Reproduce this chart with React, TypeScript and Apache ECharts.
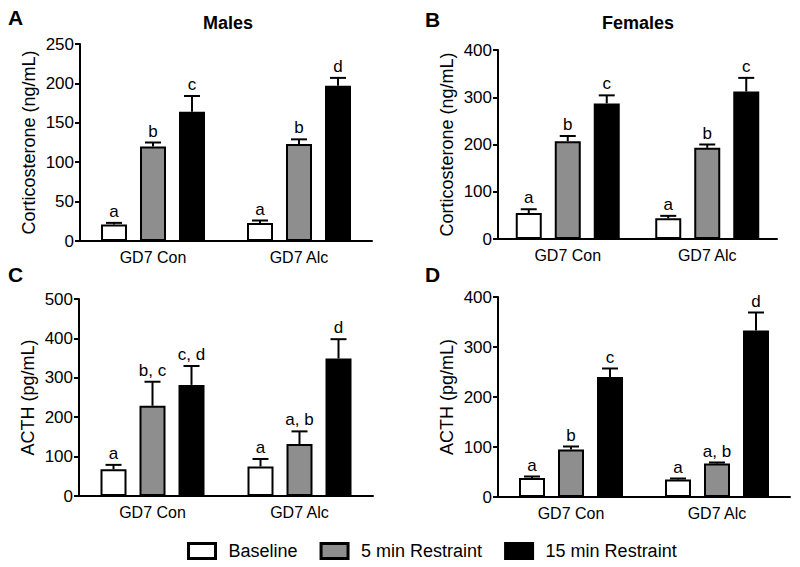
import React, { useEffect, useRef } from "react";
import * as echarts from "echarts";

const categories = ["GD7 Con", "GD7 Alc"];
const seriesNames = ["Baseline", "5 min Restraint", "15 min Restraint"];
const seriesColors = ["#ffffff", "#8e8e8e", "#000000"];

// Panel A: Males corticosterone (ng/mL)
const aBaseline = [21, 23];
const aBaselineSem = [2, 3];
const aFive = [120, 123];
const aFiveSem = [5, 6];
const aFifteen = [164, 197];
const aFifteenSem = [20, 10];
const aLetters = [["a", "a"], ["b", "b"], ["c", "d"]];

// Panel B: Females corticosterone (ng/mL)
const bBaseline = [55, 44];
const bBaselineSem = [8, 5];
const bFive = [207, 193];
const bFiveSem = [11, 7];
const bFifteen = [287, 312];
const bFifteenSem = [17, 29];
const bLetters = [["a", "a"], ["b", "b"], ["c", "c"]];

// Panel C: Males ACTH (pg/mL)
const cBaseline = [68, 75];
const cBaselineSem = [11, 19];
const cFive = [229, 132];
const cFiveSem = [61, 32];
const cFifteen = [282, 349];
const cFifteenSem = [48, 49];
const cLetters = [["a", "a"], ["b, c", "a, b"], ["c, d", "d"]];

// Panel D: Females ACTH (pg/mL)
const dBaseline = [38, 35];
const dBaselineSem = [3, 2];
const dFive = [95, 67];
const dFiveSem = [6, 2];
const dFifteen = [240, 333];
const dFifteenSem = [17, 36];
const dLetters = [["a", "a"], ["b", "a, b"], ["c", "d"]];

const FONT = "'Liberation Sans', Arial, Helvetica, sans-serif";

const BAR_W = 26;
const BAR_STEP = 39;

const panels = [
  {
    grid: { left: 80, top: 44, width: 292, height: 197 },
    max: 250, interval: 50, yName: "Corticosterone (ng/mL)",
    means: [aBaseline, aFive, aFifteen], sems: [aBaselineSem, aFiveSem, aFifteenSem], letters: aLetters,
  },
  {
    grid: { left: 498, top: 50, width: 279, height: 189 },
    max: 400, interval: 100, yName: "Corticosterone (ng/mL)",
    means: [bBaseline, bFive, bFifteen], sems: [bBaselineSem, bFiveSem, bFifteenSem], letters: bLetters,
  },
  {
    grid: { left: 79, top: 299, width: 294, height: 197 },
    max: 500, interval: 100, yName: "ACTH (pg/mL)",
    means: [cBaseline, cFive, cFifteen], sems: [cBaselineSem, cFiveSem, cFifteenSem], letters: cLetters,
  },
  {
    grid: { left: 498, top: 297, width: 292, height: 200 },
    max: 400, interval: 100, yName: "ACTH (pg/mL)",
    means: [dBaseline, dFive, dFifteen], sems: [dBaselineSem, dFiveSem, dFifteenSem], letters: dLetters,
  },
];

function buildOption() {
  const grids: any[] = [];
  const xAxes: any[] = [];
  const yAxes: any[] = [];
  const series: any[] = [];

  panels.forEach((p, pi) => {
    grids.push({ ...p.grid, containLabel: false });
    xAxes.push({
      type: "category",
      gridIndex: pi,
      data: categories,
      axisLine: { lineStyle: { color: "#000", width: 2 } },
      axisTick: { alignWithLabel: true, length: 5, lineStyle: { color: "#000", width: 2 } },
      axisLabel: { color: "#000", fontSize: 16, fontFamily: FONT, margin: 8 },
      splitLine: { show: false },
    });
    yAxes.push({
      type: "value",
      gridIndex: pi,
      min: 0,
      max: p.max,
      interval: p.interval,
      name: p.yName,
      nameLocation: "middle",
      nameGap: 42,
      nameTextStyle: { color: "#000", fontSize: 18, fontFamily: FONT },
      axisLine: { show: true, lineStyle: { color: "#000", width: 2 } },
      axisTick: { show: true, length: 5, lineStyle: { color: "#000", width: 2 } },
      axisLabel: { color: "#000", fontSize: 17, fontFamily: FONT, margin: 6 },
      splitLine: { show: false },
    });

    p.means.forEach((m, si) => {
      series.push({
        type: "bar",
        name: seriesNames[si],
        xAxisIndex: pi,
        yAxisIndex: pi,
        data: m,
        barWidth: BAR_W,
        barGap: "50%",
        itemStyle: { color: seriesColors[si], borderColor: "#000", borderWidth: 2 },
        z: 2,
      });
    });

    p.means.forEach((m, si) => {
      const sem = p.sems[si];
      const letters = p.letters[si];
      const offset = (si - 1) * BAR_STEP;
      series.push({
        type: "custom",
        xAxisIndex: pi,
        yAxisIndex: pi,
        z: 5,
        data: m.map((v, ci) => [ci, v, sem[ci]]),
        renderItem: (params: any, api: any) => {
          const ci = api.value(0);
          const mean = api.value(1);
          const s = api.value(2);
          const base = api.coord([ci, mean]);
          const top = api.coord([ci, mean + s]);
          const x = base[0] + offset;
          return {
            type: "group",
            children: [
              { type: "line", shape: { x1: x, y1: base[1], x2: x, y2: top[1] }, style: { stroke: "#000", lineWidth: 2 } },
              { type: "line", shape: { x1: x - 8, y1: top[1], x2: x + 8, y2: top[1] }, style: { stroke: "#000", lineWidth: 2 } },
              {
                type: "text",
                x: x,
                y: top[1] - 3,
                style: {
                  text: letters[params.dataIndex],
                  textAlign: "center",
                  textVerticalAlign: "bottom",
                  align: "center",
                  verticalAlign: "bottom",
                  fontSize: 17,
                  fontFamily: FONT,
                  fill: "#000",
                },
              },
            ],
          };
        },
      });
    });
  });

  const panelText = (text: string, x: number, y: number, size: number, align = "left") => ({
    type: "text",
    x,
    y,
    style: {
      text,
      fontSize: size,
      fontWeight: "bold",
      fontFamily: FONT,
      fill: "#000",
      textAlign: align,
      align,
      textVerticalAlign: "top",
      verticalAlign: "top",
    },
  });

  return {
    animation: false,
    backgroundColor: "#fff",
    grid: grids,
    xAxis: xAxes,
    yAxis: yAxes,
    series,
    legend: {
      left: 182,
      top: 537,
      itemWidth: 27,
      itemHeight: 15,
      itemGap: 22,
      selectedMode: false,
      textStyle: { color: "#000", fontSize: 18, fontFamily: FONT, padding: [0, 0, 0, 8] },
      data: seriesNames.map((n, i) => ({
        name: n,
        icon: "rect",
        itemStyle: { color: seriesColors[i], borderColor: "#000", borderWidth: 3 },
      })),
    },
    graphic: [
      panelText("A", 8, 7, 21),
      panelText("B", 425, 9, 21),
      panelText("C", 8, 264, 21),
      panelText("D", 425, 264, 21),
      panelText("Males", 228, 14, 18, "center"),
      panelText("Females", 638, 14, 18, "center"),
    ],
  };
}

export default function App() {
  const ref = useRef<HTMLDivElement>(null);
  useEffect(() => {
    if (!ref.current) return;
    const chart = echarts.init(ref.current, undefined, { renderer: "svg" });
    chart.setOption(buildOption() as any);
    return () => chart.dispose();
  }, []);
  return (
    <div
      ref={ref}
      style={{ position: "absolute", left: 0, top: 0, width: 800, height: 567, background: "#fff" }}
    />
  );
}
